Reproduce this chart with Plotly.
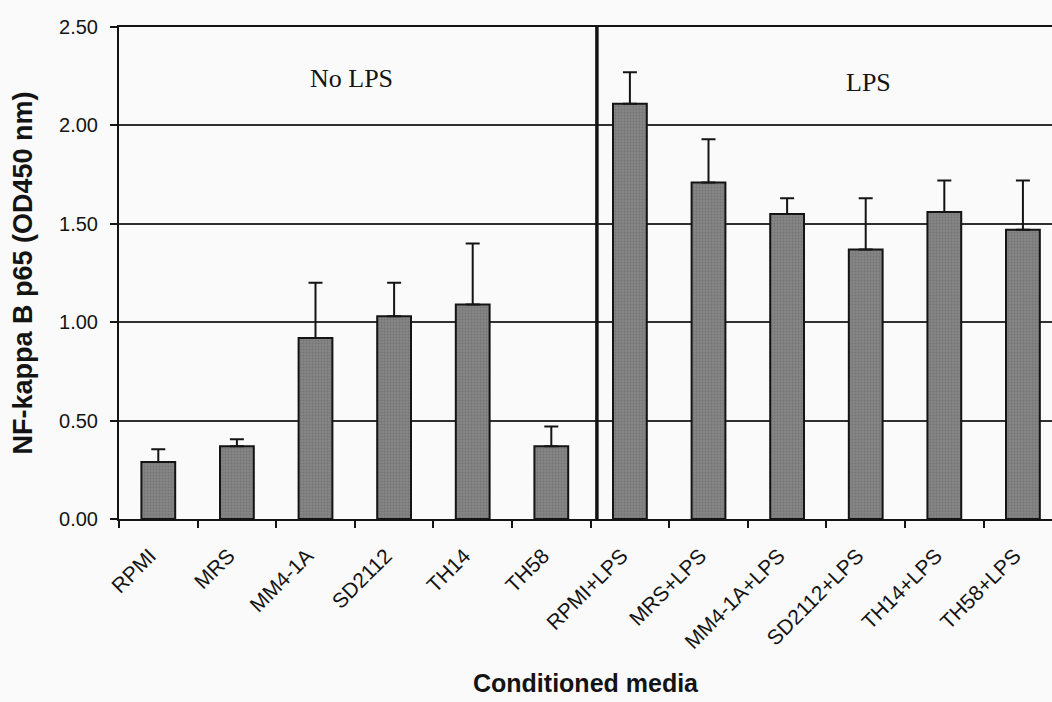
import plotly.graph_objects as go

# NF-kappa B p65 activation (OD450) for each conditioned medium, mean and SD
categories = ["RPMI", "MRS", "MM4-1A", "SD2112", "TH14", "TH58",
              "RPMI+LPS", "MRS+LPS", "MM4-1A+LPS", "SD2112+LPS", "TH14+LPS", "TH58+LPS"]
means = [0.29, 0.37, 0.92, 1.03, 1.09, 0.37,
         2.11, 1.71, 1.55, 1.37, 1.56, 1.47]
errors = [0.065, 0.035, 0.28, 0.17, 0.31, 0.10,
          0.16, 0.22, 0.08, 0.26, 0.16, 0.25]
y_ticks = [0.0, 0.5, 1.0, 1.5, 2.0, 2.5]
group_labels = ["No LPS", "LPS"]
group_label_x = [2.46, 9.03]
group_label_y = [2.24, 2.22]
separator_x = 5.58

SANS = "Liberation Sans, Arial, sans-serif"
SERIF = "Liberation Serif, Times New Roman, serif"
INK = "#141414"

fig = go.Figure()
fig.add_trace(go.Bar(
    x=categories,
    y=means,
    width=0.43,
    marker=dict(
        color="#7e7e7e",
        line=dict(color=INK, width=2),
        pattern=dict(shape=".", fgcolor="#646464", bgcolor="#858585",
                     size=3, solidity=0.35),
    ),
    error_y=dict(type="data", array=errors, symmetric=False,
                 arrayminus=[0] * len(errors),
                 color=INK, thickness=2, width=7),
    showlegend=False,
))

# Vertical divider between untreated and LPS-stimulated groups
fig.add_shape(type="line", xref="x", yref="y",
              x0=separator_x, x1=separator_x, y0=-0.015, y1=2.5,
              line=dict(color=INK, width=3.5), layer="above")

for text, gx, gy in zip(group_labels, group_label_x, group_label_y):
    fig.add_annotation(x=gx, y=gy, xref="x", yref="y", text=text,
                       showarrow=False,
                       font=dict(family=SERIF, size=26, color=INK))

fig.update_layout(
    width=1052, height=702,
    margin=dict(l=119, r=0, t=27, b=183),
    paper_bgcolor="#fafafa",
    plot_bgcolor="#fafafa",
    font=dict(family=SANS, color=INK),
)

# Slanted category labels sit a little left of each bar centre
fig.update_xaxes(
    range=[-0.5, 11.37],
    tickmode="array",
    tickvals=categories,
    ticktext=[c + "\u00a0\u00a0" for c in categories],
    tickangle=-45,
    tickfont=dict(family=SANS, size=21, color=INK),
    ticks="outside", ticklen=7, tickwidth=1.5, tickcolor=INK,
    tickson="boundaries",
    ticklabelstandoff=6,
    showline=True, linecolor=INK, linewidth=2, mirror=True,
    showgrid=False,
    title=dict(text="<b>Conditioned media</b>",
               font=dict(family=SANS, size=25, color=INK), standoff=22),
)

fig.update_yaxes(
    range=[0, 2.5],
    tickvals=y_ticks,
    tickformat=".2f",
    tickfont=dict(family=SANS, size=20, color=INK),
    ticks="outside", ticklen=7, tickwidth=1.5, tickcolor=INK,
    ticklabelstandoff=8,
    showline=True, linecolor=INK, linewidth=2,
    showgrid=True, gridcolor="#303030", gridwidth=1.5,
    zeroline=False,
    title=dict(text="<b>NF-kappa B p65 (OD450 nm)</b>",
               font=dict(family=SANS, size=27, color=INK), standoff=19),
)

fig.write_html("out.html")
